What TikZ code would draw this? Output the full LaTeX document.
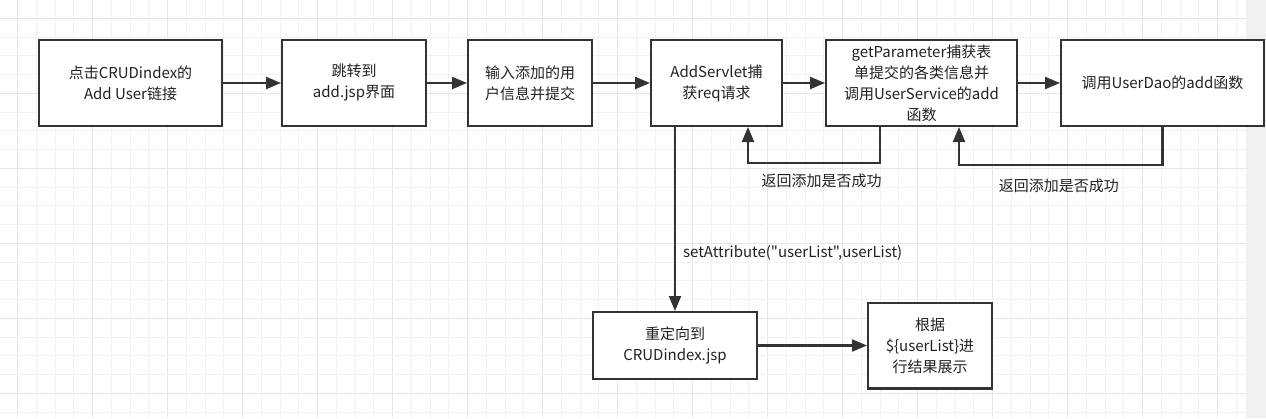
\documentclass[tikz,border=0pt]{standalone}
\usepackage{fontspec}
\setmainfont{Noto Sans CJK SC}[Ligatures=TeXOff]
\usetikzlibrary{arrows.meta, positioning}
\definecolor{linegray}{HTML}{333333}
\definecolor{textgray}{HTML}{222222}
\definecolor{minorgray}{HTML}{F2F2F2}
\definecolor{majorgray}{HTML}{E6E6E6}
\definecolor{stripgray}{HTML}{F0F0F0}

\begin{document}
\begin{tikzpicture}[
    x=1pt, y=1pt,
    block/.style={rectangle, draw=linegray, line width=2.2pt, fill=white, minimum height=85.8pt, inner sep=1pt, align=center, text=textgray, font=\fontsize{15}{21}\selectfont},
    lbl/.style={text=textgray, font=\fontsize{15}{21}\selectfont, inner sep=2pt},
    arrow/.style={-{Triangle[length=15pt, width=12pt]}, line width=2.2pt, draw=linegray},
    gridminor/.style={draw=minorgray, line width=1pt},
    gridmajor/.style={draw=majorgray, line width=1.4pt}
]
    \useasboundingbox (0,0) rectangle (1266,-418);

    % background grid
    \foreach \i in {0,...,65} {
        \pgfmathtruncatemacro{\m}{mod(\i,4)}
        \ifnum\m=0 \draw[gridmajor] ({17.7+18.75*\i},0) -- ++(0,-418);
        \else \draw[gridminor] ({17.7+18.75*\i},0) -- ++(0,-418); \fi
    }
    \foreach \j in {0,...,21} {
        \pgfmathtruncatemacro{\m}{mod(\j,4)}
        \ifnum\m=0 \draw[gridmajor] (0,{-18.3-18.75*\j}) -- (1246,{-18.3-18.75*\j});
        \else \draw[gridminor] (0,{-18.3-18.75*\j}) -- (1246,{-18.3-18.75*\j}); \fi
    }
    \fill[stripgray] (1246,0) rectangle (1266,-418);

    \node[block, minimum width=182.8pt] (click) at (130.5,-83) {点击CRUDindex的\\Add User链接};
    \node[block, minimum width=143.8pt, right=58pt of click] (jump) {跳转到\\add.jsp界面};
    \node[block, minimum width=123.8pt, right=40pt of jump] (input) {输入添加的用\\户信息并提交};
    \node[block, minimum width=130.8pt, right=57pt of input] (servlet) {AddServlet捕\\获req请求};
    \node[block, minimum width=190.8pt, right=42pt of servlet] (service) {getParameter捕获表\\单提交的各类信息并\\调用UserService的add\\函数};
    \node[block, minimum width=202.8pt, right=42pt of service] (dao) {调用UserDao的add函数};
    \node[block, minimum width=163.8pt, minimum height=66.8pt, below=184pt of servlet, xshift=-41.5pt] (redirect) {重定向到\\CRUDindex.jsp};
    \node[block, minimum width=123.8pt, right=109pt of redirect] (show) {根据\\\$\{userList\}进\\行结果展示};

    \draw[arrow] (click) -- (jump);
    \draw[arrow] (jump) -- (input);
    \draw[arrow] (input) -- (servlet);
    \draw[arrow] (servlet) -- (service);
    \draw[arrow] (service) -- (dao);

    % results returned back
    \draw[arrow] ([xshift=-41.5pt]service.south) -- ++(0,-36) -| node[lbl, pos=0.25, below=8pt, xshift=7.5pt] (ret1) {返回添加是否成功} ([xshift=31.5pt]servlet.south);
    \draw[arrow] (dao.south) -- ++(0,-38) -| node[lbl, pos=0.25, below=11pt, xshift=-2pt] (ret2) {返回添加是否成功} ([xshift=37.5pt]service.south);

    \draw[arrow] (redirect.north |- servlet.south) -- node[lbl, pos=0.685, right=5pt] (attr) {setAttribute("userList",userList)} (redirect.north);
    \draw[arrow] (redirect) -- (show);
\end{tikzpicture}
\end{document}
